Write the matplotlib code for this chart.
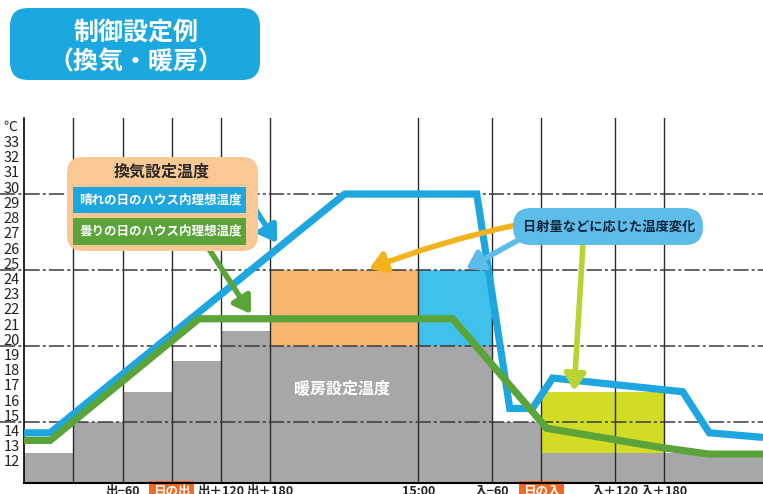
import numpy as np
import matplotlib.pyplot as plt
from matplotlib.patches import FancyBboxPatch
from matplotlib.transforms import IdentityTransform

plt.rcParams['font.family'] = ['Noto Sans CJK JP', 'DejaVu Sans']

W, H = 763, 494

# 目盛り
temps = list(range(12, 34))
time_pos = [2, 3, 4, 5, 8, 9.5, 10.5, 12, 13]
time_labels = ['出−60', '日の出', '出＋120', '出＋180', '15:00',
               '入−60', '日の入', '入＋120', '入＋180']
grid_x = [1, 2, 3, 4, 5, 8, 9.5, 10.5, 12, 13]
dash_y = [30, 25, 20, 15]

# 暖房設定温度（階段）
heat_edges = [0, 1, 2, 3, 4, 5, 9.5, 10.5, 15]
heat_vals = [13, 15, 17, 19, 21, 20, 15, 13]

# 日射量などに応じた温度変化の範囲 (x0, x1, y0, y1)
orange_box = (5, 8, 20, 25)
blue_box = (8, 9.5, 20, 25)
yellow_box = (10.5, 13, 13, 17)

# 晴れの日のハウス内理想温度
sunny_x = [0, 0.53, 6.51, 9.19, 9.86, 10.32, 10.73, 13.37, 13.91, 15]
sunny_v = [14.3, 14.3, 30, 30, 15.9, 15.9, 17.9, 17.0, 14.3, 14.0]

# 曇りの日のハウス内理想温度
cloudy_x = [0, 0.53, 3.55, 8.70, 10.61, 12.9, 13.91, 15]
cloudy_v = [13.8, 13.8, 21.8, 21.8, 14.6, 13.35, 12.9, 12.9]

fig = plt.figure(figsize=(W / 100, H / 100), dpi=100)
ax = fig.add_axes([24 / W, 11 / H, 739 / W, 365 / H])
ax.set_xlim(0, 15)
ax.set_ylim(11, 35)

# 暖房設定温度
widths = np.diff(heat_edges)
ax.bar(heat_edges[:-1], np.array(heat_vals) - 11, width=widths, bottom=11,
       align='edge', color='#a7a7aa', zorder=1)

for (x0, x1, y0, y1), c in [(orange_box, '#f8b56e'), (blue_box, '#3fc1ec'),
                            (yellow_box, '#d3dc25')]:
    ax.bar(x0, y1 - y0, width=x1 - x0, bottom=y0, align='edge', color=c, zorder=1.5)

# 罫線
for x in grid_x:
    ax.plot([x, x], [11, 35], color='#2a2a2a', lw=1.0, zorder=2)
for y in dash_y:
    ax.plot([-0.49, 15], [y, y], color='#3a3a3a', lw=1.1, zorder=2,
            dashes=(10, 2, 2, 2), clip_on=False)

# 理想温度
ax.plot(sunny_x, sunny_v, color='#1ea6e0', lw=5.2, zorder=3,
        solid_joinstyle='miter', solid_capstyle='butt')
ax.plot(cloudy_x, cloudy_v, color='#5ba43a', lw=5.2, zorder=3.1,
        solid_joinstyle='miter', solid_capstyle='butt')

for s in ['top', 'right']:
    ax.spines[s].set_visible(False)
ax.spines['left'].set_linewidth(1.2)
ax.spines['bottom'].set_linewidth(1.5)
ax.spines['left'].set_zorder(2)

ax.set_yticks([t + 0.45 for t in temps], [str(t) for t in temps])
ax.tick_params(axis='y', length=0, pad=3, labelsize=10.5, labelcolor='#222222')
ax.set_xticks(time_pos, time_labels)
ax.tick_params(axis='x', length=0, pad=1.5, labelsize=9, labelcolor='#222222')
for lab in ax.get_xticklabels():
    lab.set_fontweight('bold')
    if lab.get_text() in ('日の出', '日の入'):
        lab.set_color('white')
        lab.set_bbox(dict(boxstyle='square,pad=0.3', fc='#ee6a25', ec='none'))

fig.text(3 / W, 1 - 127 / H, '℃', fontsize=10, va='center', ha='left', color='#222222')

# 矢印
def arrow(tail, head, color, lw=4, rad=0.0):
    ax.annotate('', xy=(head[0], H - head[1]), xytext=(tail[0], H - tail[1]),
                xycoords='figure pixels', textcoords='figure pixels',
                arrowprops=dict(arrowstyle='-|>,head_length=0.7,head_width=0.45',
                                lw=lw, color=color, mutation_scale=14,
                                shrinkA=0, shrinkB=0,
                                connectionstyle=f'arc3,rad={rad}'),
                zorder=5, annotation_clip=False)

arrow((246, 195), (277, 243), '#1ea6e0')
arrow((207, 246), (251, 314), '#5ba43a')
arrow((516, 225), (369, 269), '#f3b31c', rad=0.04)
arrow((522, 238), (466, 269), '#5dbde9')
arrow((583, 244), (574, 391), '#b8d432')

def rbox(x0, y0, x1, y1, color, r):
    p = FancyBboxPatch((x0, H - y1), x1 - x0, y1 - y0,
                       boxstyle=f'round,pad=0,rounding_size={r}',
                       fc=color, ec='none', transform=IdentityTransform())
    fig.patches.append(p)

# タイトル
rbox(10, 8, 260, 80, '#1ba8e1', 18)
fig.text(136 / W, 1 - 33 / H, '制御設定例', fontsize=18, fontweight='bold',
         color='white', ha='center', va='center')
fig.text(136 / W, 1 - 62 / H, '（換気・暖房）', fontsize=18, fontweight='bold',
         color='white', ha='center', va='center')

# 換気設定温度
rbox(67, 157, 258, 251, '#fac993', 16)
fig.text(162 / W, 1 - 172 / H, '換気設定温度', fontsize=11.5, fontweight='bold',
         color='#2a2a2a', ha='center', va='center')
rbox(73, 187, 246, 213, '#1ea6e0', 0.1)
fig.text(160 / W, 1 - 200 / H, '晴れの日のハウス内理想温度', fontsize=9,
         fontweight='bold', color='white', ha='center', va='center')
rbox(73, 218, 246, 245, '#5ba43a', 0.1)
fig.text(160 / W, 1 - 231.5 / H, '曇りの日のハウス内理想温度', fontsize=9,
         fontweight='bold', color='white', ha='center', va='center')

# 日射量などに応じた温度変化
rbox(513, 208, 703, 245, '#5dbde9', 18)
fig.text(609 / W, 1 - 227 / H, '日射量などに応じた温度変化', fontsize=9.5,
         fontweight='bold', color='#14233a', ha='center', va='center')

fig.text(342 / W, 1 - 388 / H, '暖房設定温度', fontsize=11.5, fontweight='bold',
         color='white', ha='center', va='center')

fig.savefig('out.png', dpi=100)
